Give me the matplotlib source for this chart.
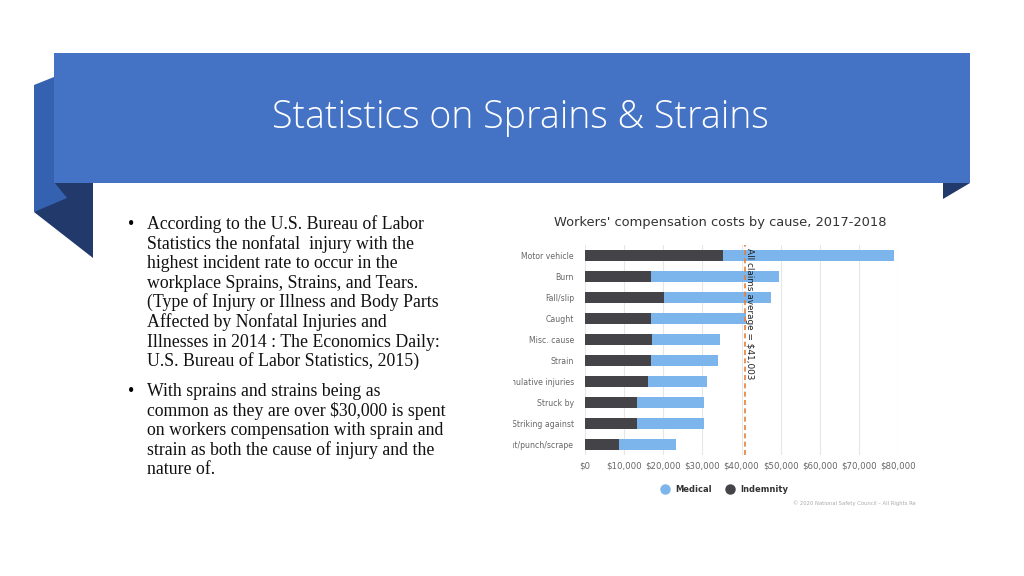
import numpy as np
import matplotlib
matplotlib.use('Agg')
import matplotlib.pyplot as plt
from matplotlib.patches import Polygon
from matplotlib.lines import Line2D
from matplotlib.transforms import Bbox, TransformedBbox

# chart data
causes = ['Motor vehicle', 'Burn', 'Fall/slip', 'Caught', 'Misc. cause', 'Strain',
          'Cumulative injuries', 'Struck by', 'Striking against', 'Cut/punch/scrape']
indemnity = [35300, 16900, 20100, 16900, 17200, 16800, 16100, 13400, 13400, 8700]
medical = [43600, 32800, 27400, 24300, 17400, 17100, 15200, 17000, 17000, 14600]
avg_claim = 41003
xticks = [0, 10000, 20000, 30000, 40000, 50000, 60000, 70000, 80000]
xtick_labels = [r'\$0', r'\$10,000', r'\$20,000', r'\$30,000', r'\$40,000',
                r'\$50,000', r'\$60,000', r'\$70,000', r'\$80,000']

slide_title = 'Statistics on Sprains & Strains'
chart_title = "Workers' compensation costs by cause, 2017-2018"
bullet1 = ['According to the U.S. Bureau of Labor',
           'Statistics the nonfatal  injury with the',
           'highest incident rate to occur in the',
           'workplace Sprains, Strains, and Tears.',
           '(Type of Injury or Illness and Body Parts',
           'Affected by Nonfatal Injuries and',
           'Illnesses in 2014 : The Economics Daily:',
           'U.S. Bureau of Labor Statistics, 2015)']
bullet2 = ['With sprains and strains being as',
           r'common as they are over \$30,000 is spent',
           'on workers compensation with sprain and',
           'strain as both the cause of injury and the',
           'nature of.']

W, H = 1024, 576
fig = plt.figure(figsize=(10.24, 5.76), dpi=100)
fig.patch.set_facecolor('white')

# slide background shapes, in pixel coords
bg = fig.add_axes([0, 0, 1, 1])
bg.set_xlim(0, W)
bg.set_ylim(H, 0)
bg.axis('off')
bg.add_patch(Polygon([(34, 212), (93, 258), (93, 182), (54, 182)], closed=True,
                     fc='#21396b', ec='none'))
bg.add_patch(Polygon([(34, 85), (54, 77), (54, 182), (67, 198), (34, 212)], closed=True,
                     fc='#3562b0', ec='none'))
bg.add_patch(Polygon([(943, 183), (970, 183), (943, 199)], closed=True,
                     fc='#21396b', ec='none'))
bg.add_patch(Polygon([(54, 53), (970, 53), (970, 183), (54, 183)], closed=True,
                     fc='#4472c4', ec='none'))
bg.text(520, 118, slide_title, color='white', fontsize=27, family='Open Sans',
        fontweight='light', ha='center', va='center')

# bullets
for i, line in enumerate(bullet1):
    bg.text(147, 229 + i * 19.6, line, family='Liberation Serif', fontsize=12.8,
            color='#111111', va='baseline', ha='left')
for i, line in enumerate(bullet2):
    bg.text(147, 396 + i * 19.6, line, family='Liberation Serif', fontsize=12.8,
            color='#111111', va='baseline', ha='left')
bg.text(128, 229, '\u2022', family='Liberation Serif', fontsize=12.8, va='baseline')
bg.text(128, 396, '\u2022', family='Liberation Serif', fontsize=12.8, va='baseline')

# chart
ax = fig.add_axes([585 / W, 121 / H, 313 / W, 210 / H])
y = np.arange(len(causes))
ax.barh(y, indemnity, height=0.48, color='#434348', label='Indemnity', zorder=2)
ax.barh(y, medical, left=indemnity, height=0.48, color='#7cb5ec', label='Medical', zorder=2)
ax.set_xlim(0, 80000)
ax.set_ylim(9.5, -0.5)
ax.set_xticks(xticks, xtick_labels)
ax.set_yticks(y, causes)
ax.tick_params(axis='both', length=0, colors='#666666')
ax.tick_params(axis='y', labelsize=5.6, pad=8)
ax.tick_params(axis='x', labelsize=6.2, pad=5)
ax.grid(axis='x', color='#e6e6e6', lw=0.8, zorder=0)
ax.set_axisbelow(True)
for s in ax.spines.values():
    s.set_visible(False)
ax.patch.set_alpha(0)

clip = TransformedBbox(Bbox([[513 / W, 0], [1, 1]]), fig.transFigure)
for t in ax.get_yticklabels():
    t.set_clip_box(clip)
    t.set_clip_on(True)

ax.axvline(avg_claim, color='#e8803a', ls=(0, (3, 2)), lw=1.2, zorder=3)
ax.text(avg_claim, -0.35, r'All claims average = \$41,003', rotation=-90,
        rotation_mode='anchor', ha='left', va='bottom', fontsize=6.4, color='#222222', zorder=4)

handles = [Line2D([], [], marker='o', ls='', markersize=6.5, mfc='#7cb5ec', mec='#7cb5ec', label='Medical'),
           Line2D([], [], marker='o', ls='', markersize=6.5, mfc='#434348', mec='#434348', label='Indemnity')]
ax.legend(handles=handles, loc='center', bbox_to_anchor=(0.44, -0.162), ncol=2, frameon=False,
          prop=dict(size=6, weight='bold'), handletextpad=0.2, columnspacing=1.2,
          labelcolor='#333333')

fig.text(720 / W, 1 - 222 / H, chart_title, ha='center', va='center', fontsize=9.4, color='#333333')
fig.text(916 / W, 1 - 503 / H, '\u00a9 2020 National Safety Council \u2013 All Rights Re',
         ha='right', va='center', fontsize=3.8, color='#aaaaaa')

fig.savefig('out.png', dpi=100)
